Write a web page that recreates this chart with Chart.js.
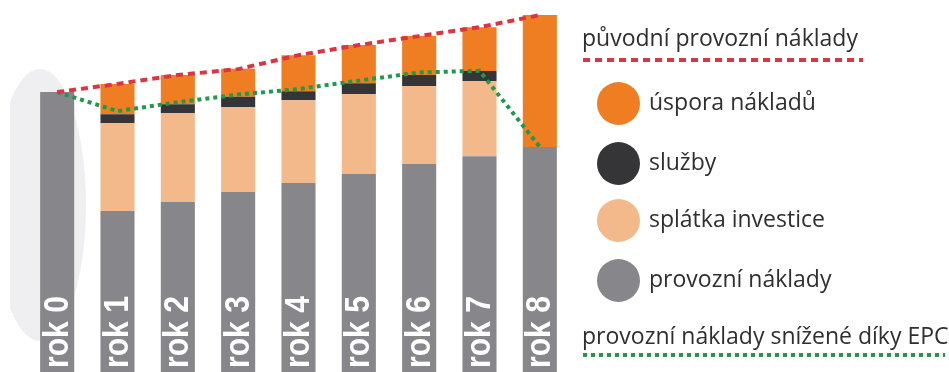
<!DOCTYPE html>
<html>
<head>
<meta charset="UTF-8">
<title>EPC náklady</title>
<script src="https://cdn.jsdelivr.net/npm/chart.js@4.4.1/dist/chart.umd.min.js"></script>
<style>
    html, body { margin: 0; padding: 0; background: #fff; }
    #wrap { position: relative; width: 949px; height: 372px; overflow: hidden; }
    #graf { position: absolute; left: 0; top: 0; }
    .leg { position: absolute; font-family: "Open Sans", sans-serif; font-size: 23px; color: #2f2f2f; white-space: nowrap; }
    .tecka { position: absolute; width: 43px; height: 43px; border-radius: 50%; left: 597px; }
    .cara { position: absolute; height: 4px; }
</style>
</head>
<body>
<div id="wrap">
    <canvas id="graf" width="949" height="372"></canvas>

    <div class="leg" style="left:582px; top:21px;">původní provozní náklady</div>
    <div class="cara" style="left:583px; top:58px; width:280px; background: repeating-linear-gradient(90deg, #dc3441 0 7px, transparent 7px 12px);"></div>

    <div class="tecka" style="top:82px; background:#ef7d22;"></div>
    <div class="leg" style="left:649px; top:85px;">úspora nákladů</div>
    <div class="tecka" style="top:142px; background:#353537;"></div>
    <div class="leg" style="left:649px; top:145px;">služby</div>
    <div class="tecka" style="top:199px; background:#f3b98a;"></div>
    <div class="leg" style="left:649px; top:202px;">splátka investice</div>
    <div class="tecka" style="top:259px; background:#87878b;"></div>
    <div class="leg" style="left:649px; top:262px;">provozní náklady</div>

    <div class="leg" style="left:582px; top:319px;">provozní náklady snížené díky EPC</div>
    <div class="cara" style="left:583px; top:353px; width:362px; background: repeating-linear-gradient(90deg, #1f9a4a 0 4px, transparent 4px 8px);"></div>
</div>

<script>
    // roky
    const roky = ['rok 0', 'rok 1', 'rok 2', 'rok 3', 'rok 4', 'rok 5', 'rok 6', 'rok 7', 'rok 8'];

    // slozky sloupcu (rok 0 = 100)
    const provozniNaklady = [100, 57.5, 60.7, 64.3, 67.5, 70.7, 74.3, 77.1, 80.4];
    const splatkaInvestice = [0, 31.4, 31.8, 30.4, 29.6, 28.6, 27.9, 26.8, 0];
    const sluzby = [0, 3.2, 3.2, 3.6, 3.2, 3.9, 3.9, 3.6, 0];
    const usporaNakladu = [0, 10.8, 10.4, 10, 12.9, 13.6, 13.9, 15.7, 47.1];

    // cary
    const puvodniNaklady = [100, 102.9, 106.1, 108.2, 113.2, 116.8, 120, 123.2, 127.5];
    const snizeneNaklady = [100, 93.2, 96.4, 99.1, 101.1, 104.1, 107, 107.6, 80.4];

    const pozadi = {
        id: 'pozadi',
        beforeDraw(chart) {
            const c = chart.ctx;
            c.save();
            c.fillStyle = '#efeff2';
            c.beginPath();
            c.ellipse(40, 205, 46, 136, 0, 0, Math.PI * 2);
            c.fill();
            c.fillStyle = '#fff';
            c.fillRect(0, 0, 10, 372);
            c.restore();
        }
    };

    const popisky = {
        id: 'popisky',
        afterDatasetsDraw(chart) {
            const c = chart.ctx;
            const x = chart.scales.x;
            c.save();
            c.fillStyle = '#ffffff';
            c.font = 'bold 35px "Liberation Sans", Arial, sans-serif';
            c.textAlign = 'left';
            c.textBaseline = 'middle';
            roky.forEach((r, i) => {
                c.save();
                c.translate(x.getPixelForValue(i) + 1, chart.chartArea.bottom - 4);
                c.rotate(-Math.PI / 2);
                c.scale(0.86, 1);
                c.fillText(r, 0, 0);
                c.restore();
            });
            c.restore();
        }
    };

    new Chart(document.getElementById('graf'), {
        type: 'bar',
        data: {
            labels: roky,
            datasets: [
                {type: 'line', label: 'původní provozní náklady', data: puvodniNaklady, stack: 'a',
                    borderColor: '#dc3441', borderWidth: 4, borderDash: [7, 5], pointRadius: 0, tension: 0, order: 0},
                {type: 'line', label: 'provozní náklady snížené díky EPC', data: snizeneNaklady, stack: 'b',
                    borderColor: '#1f9a4a', borderWidth: 4, borderDash: [4, 4], pointRadius: 0, tension: 0, order: 0},
                {label: 'provozní náklady', data: provozniNaklady, backgroundColor: '#87878b', stack: 's', order: 1},
                {label: 'splátka investice', data: splatkaInvestice, backgroundColor: '#f3b98a', stack: 's', order: 1},
                {label: 'služby', data: sluzby, backgroundColor: '#353537', stack: 's', order: 1},
                {label: 'úspora nákladů', data: usporaNakladu, backgroundColor: '#ef7d22', stack: 's', order: 1}
            ]
        },
        options: {
            responsive: false,
            animation: false,
            layout: {padding: {left: 27, right: 379, top: 0, bottom: 0}},
            datasets: {bar: {categoryPercentage: 1, barPercentage: 0.565}},
            scales: {
                x: {display: false, stacked: true},
                y: {display: false, stacked: true, min: 0, max: 132.9}
            },
            plugins: {
                legend: {display: false},
                tooltip: {enabled: false}
            }
        },
        plugins: [pozadi, popisky]
    });
</script>
</body>
</html>
